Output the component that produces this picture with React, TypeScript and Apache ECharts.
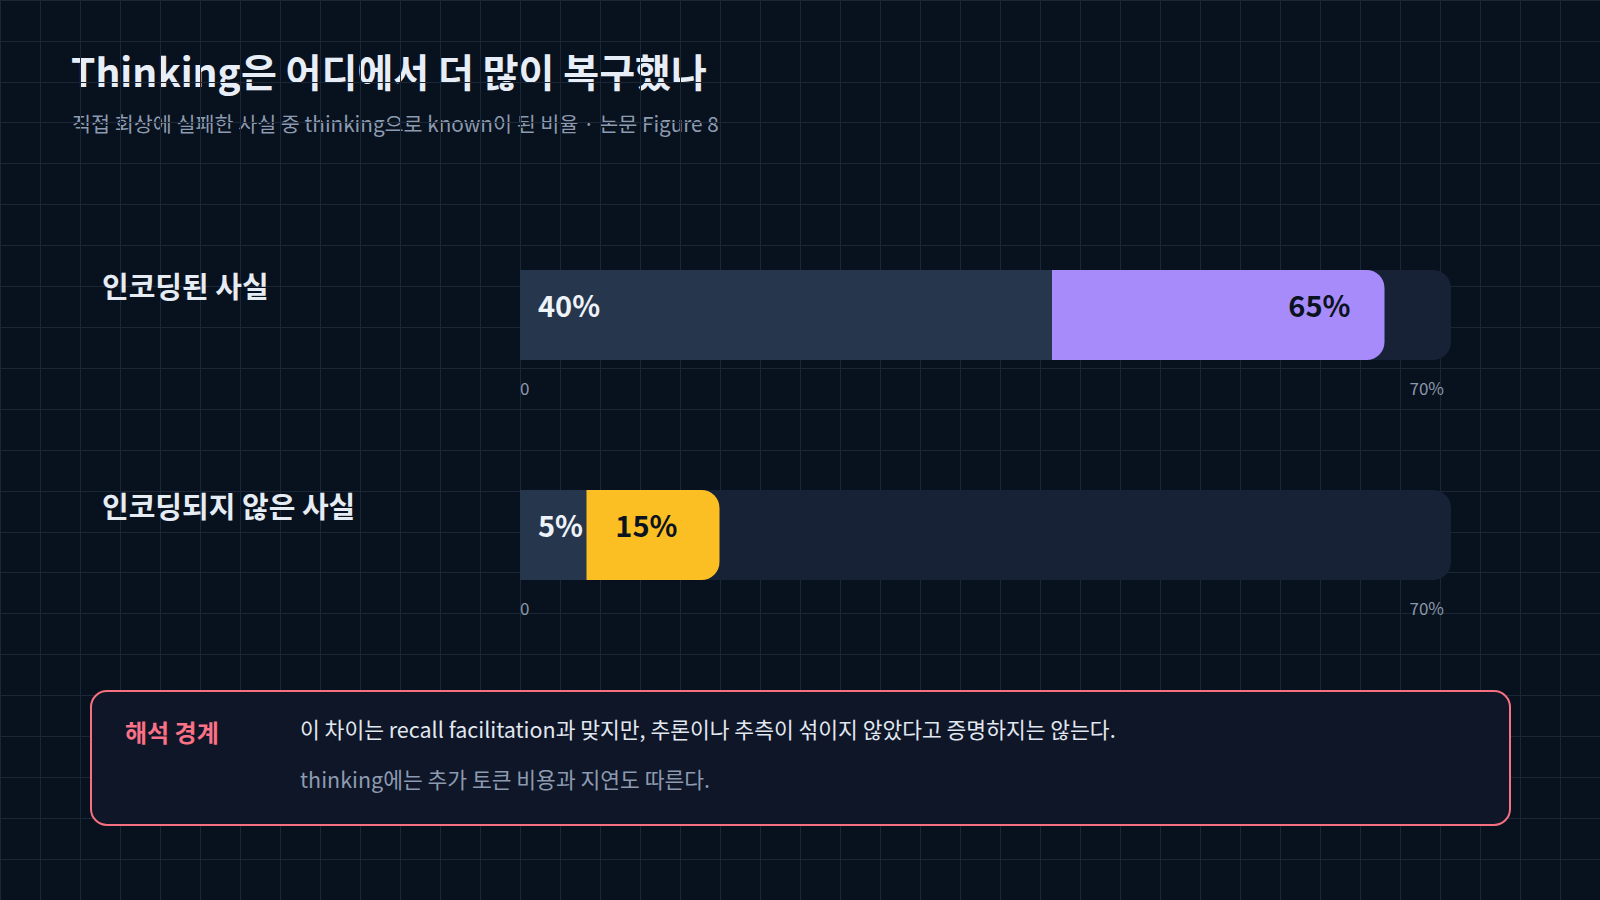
import React, { useRef, useEffect } from 'react';
import * as echarts from 'echarts';

const rowLabels = ['인코딩된 사실', '인코딩되지 않은 사실'];
const baseValues = [40, 5];
const thinkingValues = [65, 15];
const axisMin = 0;
const axisMax = 70;
const tickLabels = ['0', '70%'];
const calloutBody = [
  '이 차이는 recall facilitation과 맞지만, 추론이나 추측이 섞이지 않았다고 증명하지는 않는다.',
  'thinking에는 추가 토큰 비용과 지연도 따른다.',
];

const FONT = '"Noto Sans CJK KR", "Noto Sans", sans-serif';
const highlightColors = ['#a78bfa', '#fbbf24'];
const highlightLabelGap = [34, 42];
const rowTops = [270, 490];

export default function App() {
  const chartRef = useRef<HTMLDivElement>(null);

  useEffect(() => {
    if (!chartRef.current) return;
    const chart = echarts.init(chartRef.current, undefined, { renderer: 'svg' });

    const grids: any[] = rowTops.map((top) => ({ left: 520, width: 931, top, height: 90 }));
    // full-page grid used only for the background lattice
    grids.push({ left: 0, top: 0, width: 1600, height: 900 });

    const xAxes: any[] = rowTops.map((_, i) => ({
      type: 'value',
      gridIndex: i,
      min: axisMin,
      max: axisMax,
      interval: axisMax,
      axisLine: { show: false },
      axisTick: { show: false },
      splitLine: { show: false },
      axisLabel: {
        color: '#8c98ab',
        fontSize: 17,
        fontFamily: FONT,
        margin: 19,
        alignMinLabel: 'left',
        alignMaxLabel: 'right',
        padding: [0, 7, 0, 0],
        formatter: (v: number) => (v === axisMin ? tickLabels[0] : tickLabels[1]),
      },
    }));
    xAxes.push({
      type: 'value',
      gridIndex: 2,
      min: 0,
      max: 1600,
      interval: 40,
      axisLine: { show: false },
      axisTick: { show: false },
      axisLabel: { show: false },
      splitLine: { lineStyle: { color: '#1b2737', width: 1 } },
    });

    const yAxes: any[] = rowTops.map((_, i) => ({
      type: 'category',
      gridIndex: i,
      data: [rowLabels[i]],
      axisLine: { show: false },
      axisTick: { show: false },
      axisLabel: {
        align: 'left',
        margin: 418,
        verticalAlign: 'middle',
        formatter: (v: string) => `{t|${v}}\n{s| }`,
        rich: {
          t: {
            color: '#e6ecf4',
            fontSize: 29,
            fontWeight: 'bold',
            fontFamily: FONT,
            lineHeight: 36,
          },
          s: { fontSize: 10, lineHeight: 60 },
        },
      },
    }));
    yAxes.push({
      type: 'value',
      gridIndex: 2,
      inverse: true,
      min: 0,
      max: 880,
      interval: 40,
      axisLine: { show: false },
      axisTick: { show: false },
      axisLabel: { show: false },
      splitLine: { lineStyle: { color: '#1b2737', width: 1 } },
    });

    const valueLabel = {
      show: true,
      offset: [0, -11],
      fontSize: 29,
      fontWeight: 'bold',
      fontFamily: FONT,
      formatter: (p: any) => p.value + '%',
    };

    const series: any[] = [];
    rowTops.forEach((_, i) => {
      series.push({
        type: 'bar',
        xAxisIndex: i,
        yAxisIndex: i,
        data: [axisMax],
        barWidth: 90,
        barGap: '-100%',
        silent: true,
        itemStyle: { color: '#172236', borderRadius: [0, 18, 18, 0] },
      });
      series.push({
        type: 'bar',
        xAxisIndex: i,
        yAxisIndex: i,
        data: [thinkingValues[i]],
        barWidth: 90,
        barGap: '-100%',
        itemStyle: { color: highlightColors[i], borderRadius: [0, 18, 18, 0] },
        label: {
          ...valueLabel,
          position: 'insideRight',
          distance: highlightLabelGap[i],
          color: '#0b1220',
        },
      });
      series.push({
        type: 'bar',
        xAxisIndex: i,
        yAxisIndex: i,
        data: [baseValues[i]],
        barWidth: 90,
        barGap: '-100%',
        itemStyle: { color: '#26364d' },
        label: {
          ...valueLabel,
          position: 'insideLeft',
          distance: 18,
          color: '#eef3f9',
        },
      });
    });

    const option: echarts.EChartsOption = {
      animation: false,
      backgroundColor: '#08111e',
      grid: grids,
      xAxis: xAxes,
      yAxis: yAxes,
      series,
      graphic: [
        {
          type: 'text',
          left: 71,
          top: 50,
          style: {
            text: 'Thinking은 어디에서 더 많이 복구했나',
            fill: '#e8eef7',
            font: `bold 39px ${FONT}`,
          },
        },
        {
          type: 'text',
          left: 72,
          top: 113,
          style: {
            text: '직접 회상에 실패한 사실 중 thinking으로 known이 된 비율 · 논문 Figure 8',
            fill: '#8d9bb0',
            font: `20.7px ${FONT}`,
          },
        },
        {
          type: 'rect',
          shape: { x: 91, y: 691, width: 1419, height: 134, r: 16 },
          style: { fill: '#0e1628', stroke: '#f7707f', lineWidth: 2 },
          z: 10,
        },
        {
          type: 'text',
          x: 125,
          y: 731,
          style: {
            text: '해석 경계',
            fill: '#fb7185',
            font: `bold 24px ${FONT}`,
            verticalAlign: 'middle',
          },
          z: 11,
        },
        {
          type: 'text',
          x: 300,
          y: 728,
          style: {
            text: calloutBody[0],
            fill: '#e2e8f0',
            font: `21.5px ${FONT}`,
            verticalAlign: 'middle',
          },
          z: 11,
        },
        {
          type: 'text',
          x: 300,
          y: 778,
          style: {
            text: calloutBody[1],
            fill: '#8d9bb0',
            font: `21.5px ${FONT}`,
            verticalAlign: 'middle',
          },
          z: 11,
        },
      ],
    };

    chart.setOption(option);
    return () => {
      chart.dispose();
    };
  }, []);

  return (
    <div
      ref={chartRef}
      style={{ position: 'fixed', left: 0, top: 0, width: '1600px', height: '900px' }}
    />
  );
}
